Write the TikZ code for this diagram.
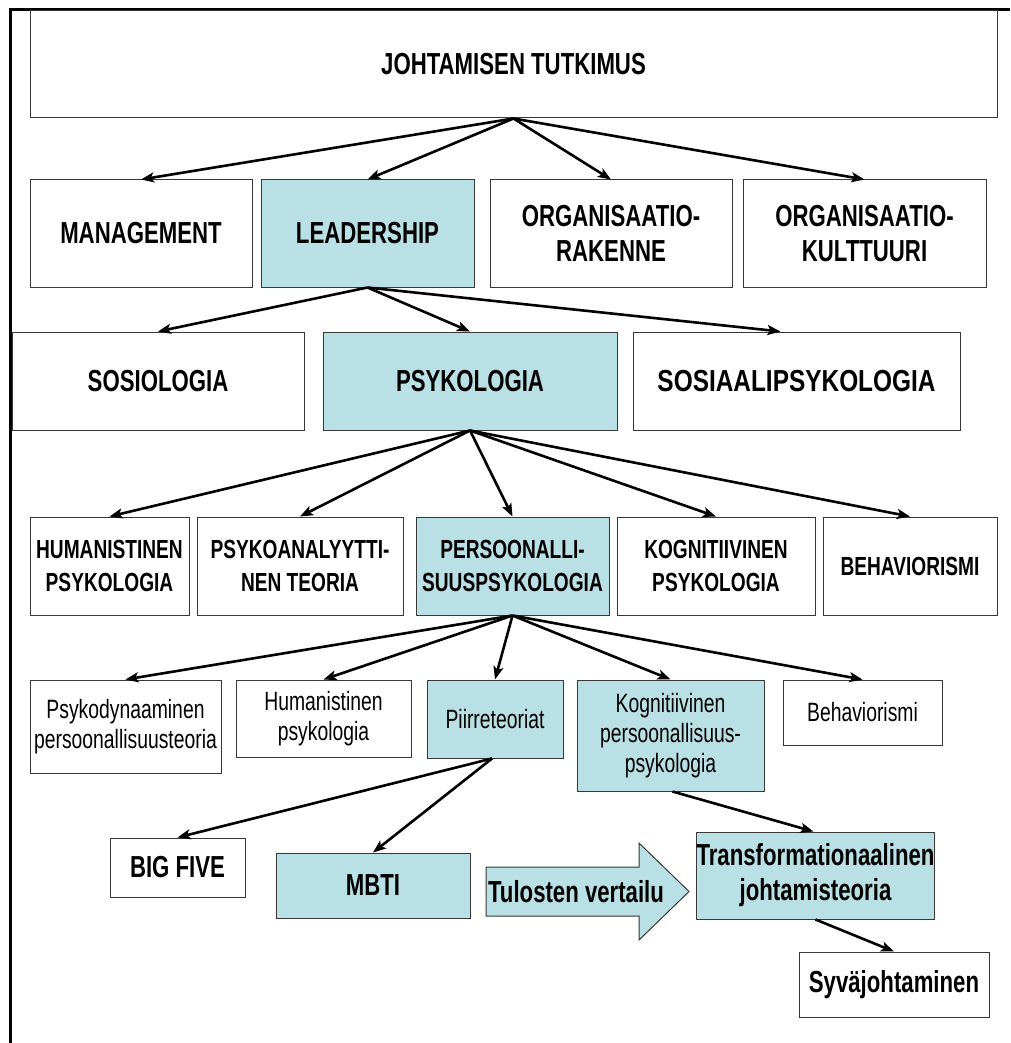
\documentclass[tikz,border=0pt]{standalone}
\usepackage{fontspec}
\setmainfont{Liberation Sans}[FakeStretch=0.73]
\usetikzlibrary{arrows.meta,calc}
\definecolor{shade}{RGB}{185,224,228}
\definecolor{edge}{RGB}{55,55,55}
\begin{document}
\begin{tikzpicture}[x=1pt,y=-1pt,
  bx/.style={draw=edge,line width=1pt,rectangle,inner sep=0pt,align=center,fill=white,
    font=\bfseries\fontsize{30.4}{35}\selectfont},
  sbx/.style={bx,fill=shade},
  mid/.style={font=\bfseries\fontsize{26.2}{33}\selectfont},
  thin/.style={font=\fontsize{26.5}{30}\selectfont},
  conn/.style={line width=2.6pt,-{Stealth[length=13pt,width=10pt,inset=3pt]}},
  frame/.style={line width=3pt}]
\useasboundingbox (0,0) rectangle (1010,1043);
\draw[frame] (10.5,1043) -- (10.5,9.7) -- (1010,9.7);

% row 1
\node[bx,minimum width=967pt,minimum height=107pt] (top) at (513.5,64.5) {JOHTAMISEN TUTKIMUS};
% row 2
\node[bx,minimum width=222pt,minimum height=107pt] (mgmt) at (141,233.5) {MANAGEMENT};
\node[sbx,minimum width=213pt,minimum height=107pt] (lead) at (367.5,233.5) {LEADERSHIP};
\node[bx,minimum width=242pt,minimum height=107pt] (orgr) at (611,233.5) {ORGANISAATIO-\\RAKENNE};
\node[bx,minimum width=243pt,minimum height=107pt] (orgk) at (864.5,233.5) {ORGANISAATIO-\\KULTTUURI};
% row 3
\node[bx,minimum width=292pt,minimum height=98pt] (sos) at (158,381) {SOSIOLOGIA};
\node[sbx,minimum width=294pt,minimum height=98pt] (psy) at (470,381) {PSYKOLOGIA};
\node[bx,minimum width=327pt,minimum height=98pt] (sosp) at (796.5,381) {\scalebox{1.1}[1]{SOSIAALIPSYKOLOGIA}};
% row 4
\node[bx,mid,minimum width=159pt,minimum height=98pt] (hum) at (109.5,566) {HUMANISTINEN\\PSYKOLOGIA};
\node[bx,mid,minimum width=206pt,minimum height=98pt] (psa) at (300,566) {PSYKOANALYYTTI-\\NEN TEORIA};
\node[sbx,mid,minimum width=193pt,minimum height=98pt] (per) at (512.5,566) {PERSOONALLI-\\SUUSPSYKOLOGIA};
\node[bx,mid,minimum width=198pt,minimum height=98pt] (kog) at (716,566) {KOGNITIIVINEN\\PSYKOLOGIA};
\node[bx,mid,minimum width=174pt,minimum height=98pt] (beh) at (910,566) {BEHAVIORISMI};
% row 5
\node[bx,thin,minimum width=191pt,minimum height=93pt] (pd) at (125.5,726.5) {Psykodynaaminen\\persoonallisuusteoria};
\node[bx,thin,minimum width=175pt,minimum height=77pt] (hp) at (323.5,718.5) {Humanistinen\\psykologia};
\node[sbx,thin,minimum width=136pt,minimum height=78pt] (piir) at (495,719) {Piirreteoriat};
\node[sbx,thin,minimum width=187pt,minimum height=111pt] (kp) at (670.5,735.5) {Kognitiivinen\\persoonallisuus-\\psykologia};
\node[bx,thin,minimum width=159pt,minimum height=65pt] (bh) at (862.5,712.5) {Behaviorismi};
% row 6
\node[bx,minimum width=135pt,minimum height=59pt] (bf) at (177.5,867.5) {BIG FIVE};
\node[sbx,minimum width=194pt,minimum height=65pt] (mbti) at (373,885.5) {MBTI};
\draw[draw=edge,fill=shade,line width=1pt] (486,867) -- (639,867) -- (639,843) -- (689,891.5)
  -- (639,940) -- (639,916) -- (486,916) -- cycle;
\node[font=\bfseries\fontsize{30.4}{35}\selectfont,inner sep=0pt] (tv) at (576,891.5) {Tulosten vertailu};
\node[sbx,minimum width=237pt,minimum height=87pt] (tr) at (815.5,875.5) {Transformationaalinen\\johtamisteoria};
\node[bx,minimum width=190pt,minimum height=65pt] (sy) at (894,984.5) {Syväjohtaminen};

% connectors
\foreach \t in {mgmt,lead,orgr,orgk} \draw[conn] (top.south) -- (\t.north);
\draw[conn] (lead.south) -- (sos.north);
\draw[conn] (lead.south) -- (psy.north);
\draw[conn] (lead.south) -- ($(sosp.north)+(-16,0)$);
\foreach \t in {hum,psa,per,kog,beh} \draw[conn] (psy.south) -- (\t.north);
\foreach \t in {pd,hp,piir,kp,bh} \draw[conn] (per.south) -- (\t.north);
\draw[conn] ($(piir.south)+(-3,0)$) -- (bf.north);
\draw[conn] ($(piir.south)+(-3,0)$) -- (mbti.north);
\draw[conn] ($(kp.south)+(2,0)$) -- ($(tr.north)+(-2,0)$);
\draw[conn] (tr.south) -- (sy.north);
\end{tikzpicture}
\end{document}
